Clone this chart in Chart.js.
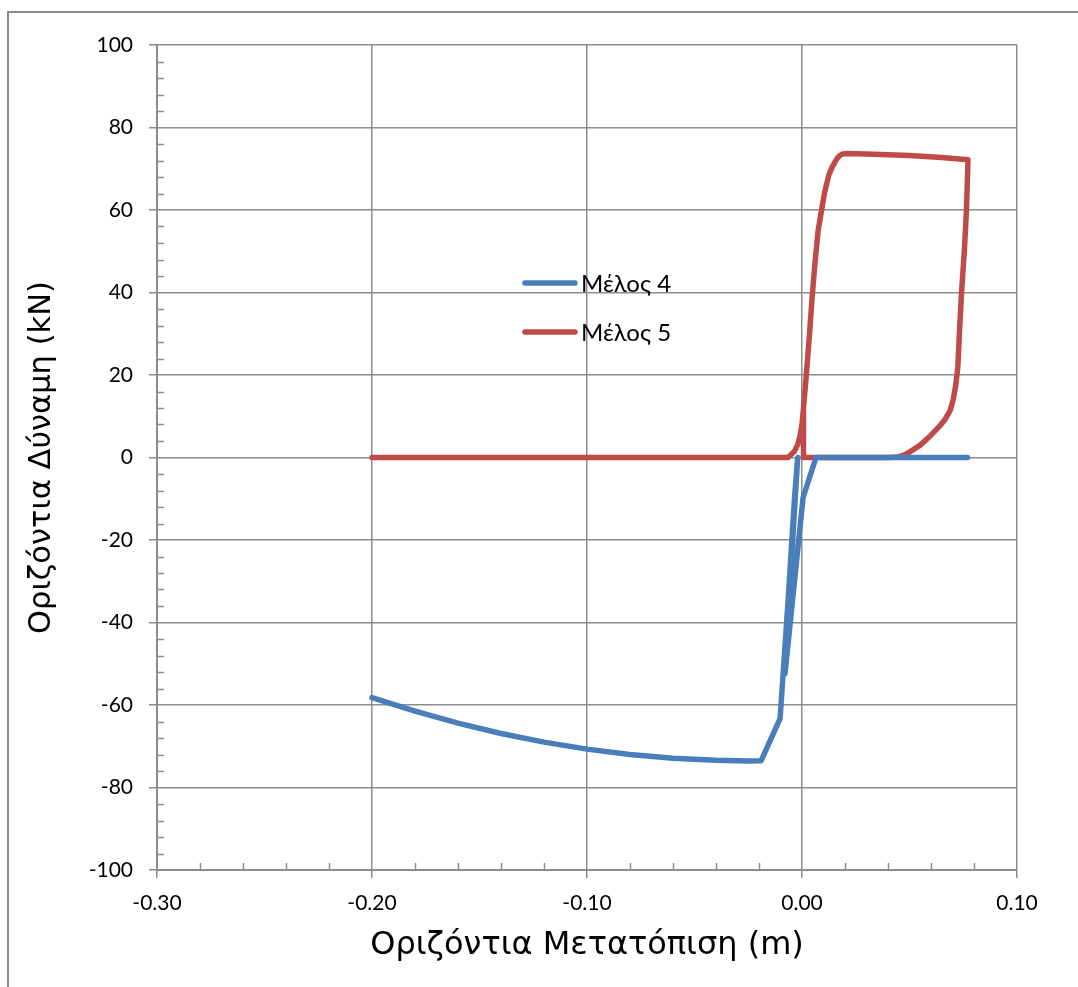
<!DOCTYPE html>
<html>
<head>
<meta charset="utf-8">
<script src="https://cdn.jsdelivr.net/npm/chart.js@4.4.1/dist/chart.umd.min.js"></script>
<style>
  html, body { margin: 0; padding: 0; background: #fff; }
  #wrap { width: 1078px; height: 987px; position: relative; }
</style>
</head>
<body>
<div id="wrap"><canvas id="grafico"></canvas></div>
<script>
// ΔΕΔΟΜΕΝΑ
const seriesNames = ["Μέλος 4", "Μέλος 5"];
const seriesColors = ["#4A7EBB", "#BE4B48"];

const melos4X = [0.077, 0.0065, 0.0005, -0.0035, -0.0079, -0.0055, -0.002, -0.0035, -0.0065, -0.0102,
                 -0.019, -0.025, -0.04, -0.06, -0.08, -0.10, -0.12, -0.14, -0.16, -0.18, -0.20];
const melos4Y = [0, 0, -9.7, -30, -52.4, -30, 0, -10, -35, -63.3,
                 -73.5, -73.6, -73.4, -72.9, -72.0, -70.7, -69.0, -66.9, -64.4, -61.5, -58.2];

const melos5X = [-0.20, -0.0065, -0.0035, -0.002, -0.001, 0, 0.0007,
                 0.002, 0.0035, 0.0047, 0.006, 0.0075, 0.0093, 0.0105, 0.0125, 0.014, 0.0153, 0.0165, 0.0178, 0.019, 0.021,
                 0.03, 0.05, 0.065, 0.0772,
                 0.0765, 0.0755, 0.0742, 0.0732, 0.0725, 0.0715, 0.0703, 0.069, 0.0665, 0.064, 0.06, 0.055, 0.05, 0.047, 0.0445, 0.04,
                 0.0005, 0.0007];
const melos5Y = [0, 0, 1.5, 3.2, 5, 8, 12,
                 20, 30, 38.8, 47, 55, 60.6, 64.2, 68.5, 70.4, 71.6, 72.6, 73.3, 73.6, 73.7,
                 73.6, 73.2, 72.7, 72.2,
                 60, 50, 40, 30, 22, 17.5, 14, 11.5, 9.2, 7.6, 5.4, 3, 1.3, 0.5, 0.1, 0,
                 0, 12];

const xTicks = [-0.30, -0.20, -0.10, 0.00, 0.10];
const yTicks = [-100, -80, -60, -40, -20, 0, 20, 40, 60, 80, 100];

const toPoints = (xs, ys) => xs.map((x, i) => ({ x: x, y: ys[i] }));

const gridColor = "#8c8c8c";
const tickFont = { family: "Lato, 'Open Sans', sans-serif", size: 21 };

// minor ticks + moldura + legenda
const extras = {
    id: "extras",
    beforeDraw(chart) {
        const ctx = chart.ctx;
        ctx.save();
        ctx.fillStyle = "#fff";
        ctx.fillRect(0, 0, chart.width, chart.height);
        ctx.strokeStyle = "#8c8c8c";
        ctx.lineWidth = 2;
        ctx.strokeRect(8, 12, chart.width + 10, chart.height + 10);
        ctx.restore();
    },
    afterDraw(chart) {
        const ctx = chart.ctx;
        const a = chart.chartArea;
        const xs = chart.scales.x, ys = chart.scales.y;
        ctx.save();
        ctx.strokeStyle = gridColor;
        ctx.lineWidth = 1.5;
        ctx.beginPath();
        for (let v = -96; v < 100; v += 4) {
            if (v % 20 === 0) continue;
            const py = Math.round(ys.getPixelForValue(v)) + 0.5;
            ctx.moveTo(a.left, py);
            ctx.lineTo(a.left + 7, py);
        }
        for (let k = -14; k < 5; k++) {
            if (k % 5 === 0) continue;
            const px = Math.round(xs.getPixelForValue(k * 0.02)) + 0.5;
            ctx.moveTo(px, a.bottom);
            ctx.lineTo(px, a.bottom - 7);
        }
        ctx.stroke();

        // legenda dentro do grafico
        const lx = a.left + 368, ly = a.top + 238;
        ctx.font = "24px Lato, 'Open Sans', sans-serif";
        ctx.textBaseline = "middle";
        chart.data.datasets.forEach((ds, i) => {
            const y = ly + i * 49;
            ctx.strokeStyle = ds.borderColor;
            ctx.lineWidth = 5.5;
            ctx.lineCap = "round";
            ctx.beginPath();
            ctx.moveTo(lx, y);
            ctx.lineTo(lx + 50, y);
            ctx.stroke();
            ctx.fillStyle = "#000";
            ctx.fillText(ds.label, lx + 56, y + 1);
        });
        ctx.restore();
    }
};

const ctx = document.getElementById("grafico");
new Chart(ctx, {
    type: "scatter",
    data: {
        datasets: [
            { label: seriesNames[0], data: toPoints(melos4X, melos4Y) },
            { label: seriesNames[1], data: toPoints(melos5X, melos5Y) }
        ].map((ds, i) => Object.assign(ds, {
            showLine: true,
            borderColor: seriesColors[i],
            backgroundColor: seriesColors[i],
            borderWidth: 5.5,
            pointRadius: 0,
            tension: 0,
            borderCapStyle: "round",
            borderJoinStyle: "round"
        }))
    },
    options: {
        responsive: true,
        maintainAspectRatio: false,
        animation: false,
        layout: { padding: { top: 45, right: 61, left: 0, bottom: 0 } },
        plugins: {
            legend: { display: false },
            tooltip: { enabled: false }
        },
        scales: {
            x: {
                type: "linear",
                min: -0.30,
                max: 0.10,
                afterBuildTicks: (s) => { s.ticks = xTicks.map(v => ({ value: v })); },
                afterFit: (s) => { s.height = 117; },
                ticks: {
                    color: "#000",
                    font: tickFont,
                    padding: 13,
                    maxRotation: 0,
                    callback: (v) => v.toFixed(2)
                },
                grid: { color: gridColor, lineWidth: 1.5, tickLength: 8, tickColor: gridColor },
                border: { color: gridColor, width: 2 },
                title: {
                    display: true,
                    text: "Οριζόντια Μετατόπιση (m)",
                    color: "#000",
                    font: { family: "'DejaVu Sans', Verdana, sans-serif", size: 32 },
                    padding: { top: 0, bottom: 22 }
                }
            },
            y: {
                type: "linear",
                min: -100,
                max: 100,
                afterBuildTicks: (s) => { s.ticks = yTicks.map(v => ({ value: v })); },
                afterFit: (s) => { s.width = 157; },
                ticks: {
                    color: "#000",
                    font: tickFont,
                    padding: 16
                },
                grid: { color: gridColor, lineWidth: 1.5, tickLength: 8, tickColor: gridColor },
                border: { color: gridColor, width: 2 },
                title: {
                    display: true,
                    text: "Οριζόντια Δύναμη (kN)",
                    color: "#000",
                    font: { family: "'DejaVu Sans', Verdana, sans-serif", size: 30.5 },
                    padding: { top: 24, bottom: 0 }
                }
            }
        }
    },
    plugins: [extras]
});
</script>
</body>
</html>
